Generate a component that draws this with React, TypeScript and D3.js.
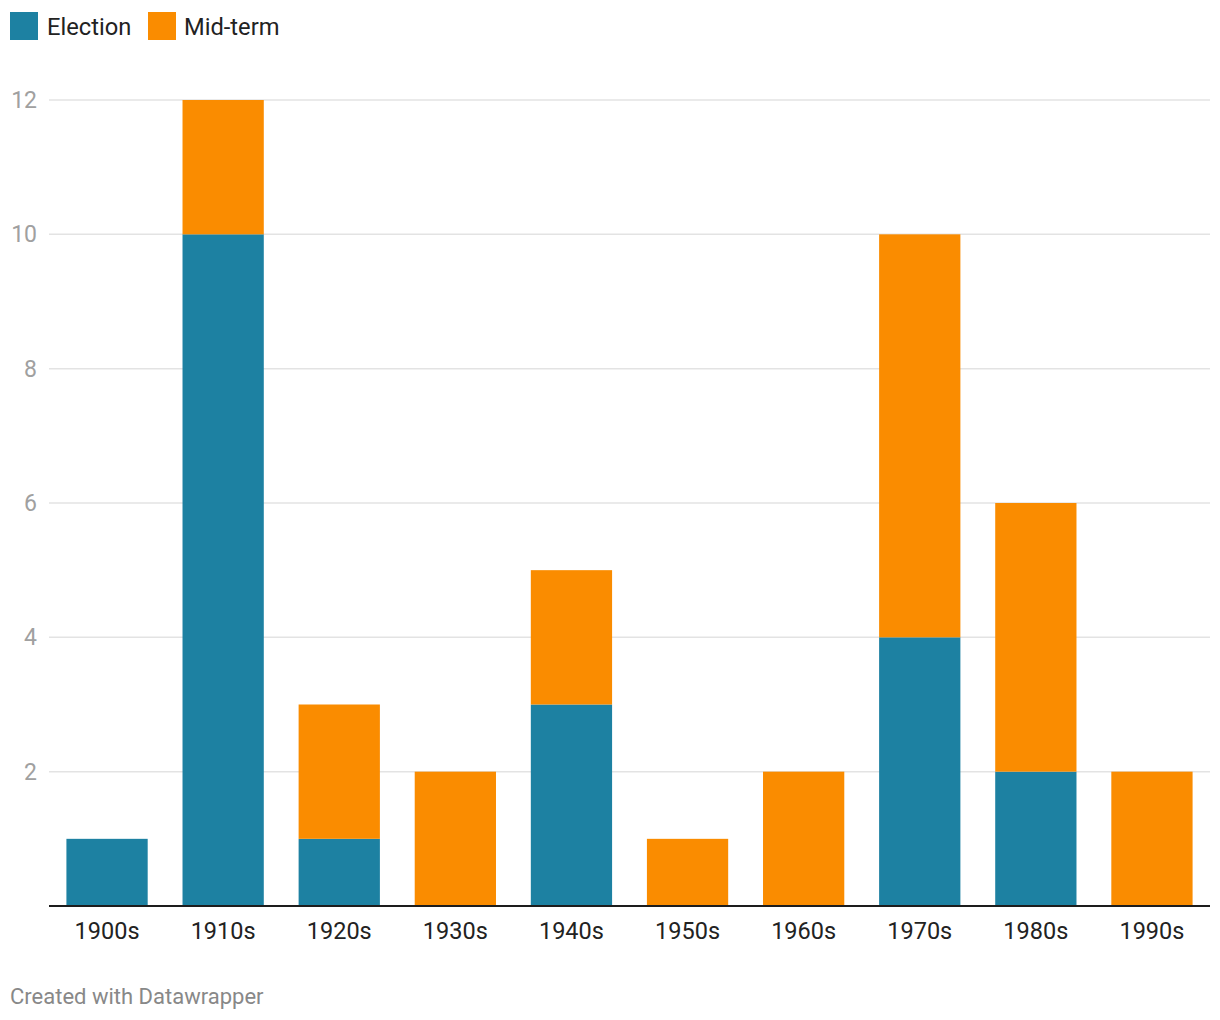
import React from "react";
import * as d3 from "d3";

const decades = ["1900s", "1910s", "1920s", "1930s", "1940s", "1950s", "1960s", "1970s", "1980s", "1990s"];
const election = [1, 10, 1, 0, 3, 0, 0, 4, 2, 0];
const midterm = [0, 2, 2, 2, 2, 1, 2, 6, 4, 2];
const yTicks = [2, 4, 6, 8, 10, 12];
const seriesNames = ["Election", "Mid-term"];
const colors = ["#1d81a2", "#fa8c00"];

const W = 1220;
const H = 1020;
const FONT = "Roboto, 'Noto Sans', sans-serif";

export default function App() {
  const x = d3.scaleBand<string>().domain(decades).range([49, 1210]).paddingInner(0.3).paddingOuter(0.15);
  const y = d3.scaleLinear().domain([0, 12]).range([906, 100]);
  const rows = decades.map((d, i) => ({ decade: d, Election: election[i], "Mid-term": midterm[i] }));
  const stack = d3.stack<any>().keys(seriesNames)(rows);

  return (
    <svg width={W} height={H} style={{ position: "absolute", left: 0, top: 0, background: "#fff" }} fontFamily={FONT}>
      {/* legend */}
      <rect x={10} y={12} width={28} height={28} fill={colors[0]} />
      <text x={47} y={34.5} fontSize={23.7} fill="#222">{seriesNames[0]}</text>
      <rect x={148} y={12} width={28} height={28} fill={colors[1]} />
      <text x={184} y={34.5} fontSize={23.7} fill="#222">{seriesNames[1]}</text>

      {/* grid */}
      {yTicks.map((t) => (
        <g key={t}>
          <line x1={49} x2={1210} y1={y(t)} y2={y(t)} stroke="#e3e3e3" strokeWidth={1.5} />
          <text x={37} y={y(t)} dy="0.35em" textAnchor="end" fontSize={23} fill="#a0a0a0">{t}</text>
        </g>
      ))}

      {/* bars */}
      {stack.map((s, si) => (
        <g key={s.key} fill={colors[si]}>
          {s.map((d, i) =>
            d[1] - d[0] > 0 ? (
              <rect key={i} x={x(decades[i])} width={x.bandwidth()} y={y(d[1])} height={y(d[0]) - y(d[1])} />
            ) : null
          )}
        </g>
      ))}

      {/* baseline */}
      <line x1={49} x2={1210} y1={906} y2={906} stroke="#1d1d1d" strokeWidth={2} />

      {/* x labels */}
      {decades.map((d) => (
        <text key={d} x={(x(d) as number) + x.bandwidth() / 2} y={939} textAnchor="middle" fontSize={23.5} fill="#222">{d}</text>
      ))}

      <text x={10} y={1004} fontSize={22} fill="#888">Created with Datawrapper</text>
    </svg>
  );
}
